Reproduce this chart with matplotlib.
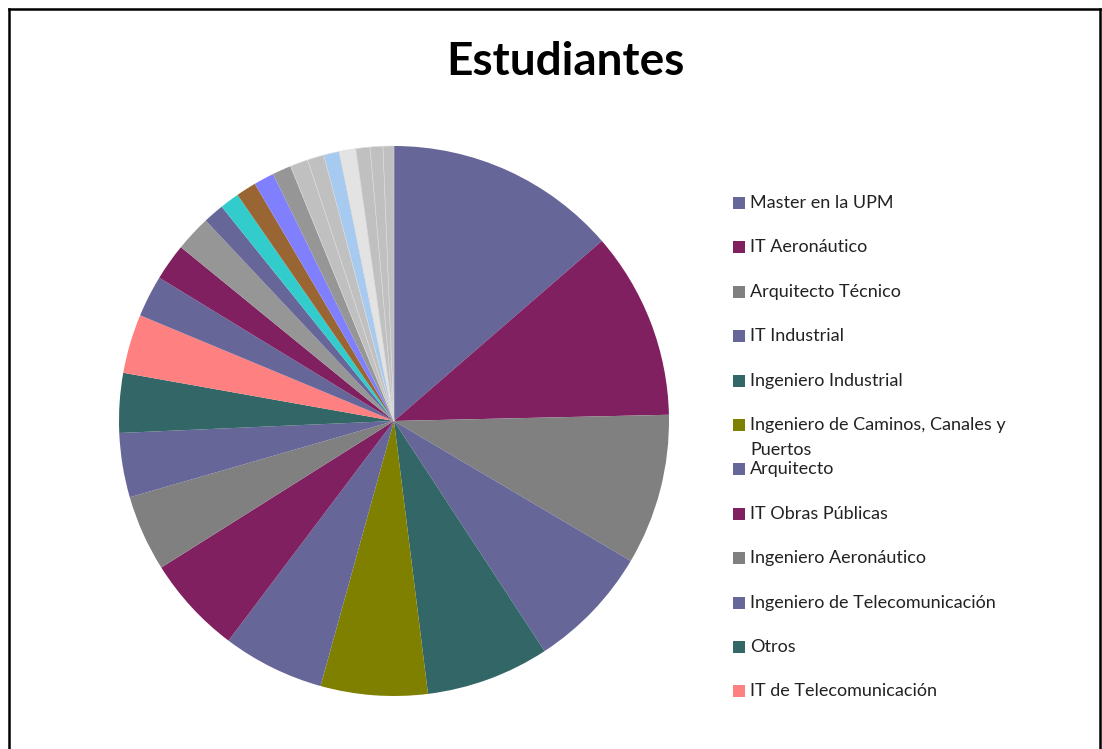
import matplotlib.pyplot as plt
from matplotlib.patches import Rectangle
from matplotlib.lines import Line2D

# valores (grados aprox. de cada sector)
labels = ["Master en la UPM", "IT Aeronáutico", "Arquitecto Técnico", "IT Industrial",
          "Ingeniero Industrial", "Ingeniero de Caminos, Canales y\nPuertos", "Arquitecto",
          "IT Obras Públicas", "Ingeniero Aeronáutico", "Ingeniero de Telecomunicación",
          "Otros", "IT de Telecomunicación"]
values = [49.1, 39.6, 31.9, 26.2, 26.1, 22.6, 21.5, 20.8, 16.1, 13.6, 12.6, 12.5,
          8.8, 7.8, 7.6, 4.4, 4.1, 4.3, 4.3, 4.0, 3.8, 3.5, 3.3, 3.5, 3.0, 2.7, 2.3]
colors = ["#666699", "#802060", "#808080", "#666699", "#336666", "#808000", "#666699",
          "#802060", "#808080", "#666699", "#336666", "#FF8080",
          "#666699", "#802060", "#969696", "#666699", "#33CCCC", "#996633", "#8080FF",
          "#969696", "#C0C0C0", "#C0C0C0", "#A6CAF0", "#E3E3E3", "#C0C0C0", "#C0C0C0",
          "#C0C0C0"]

fig = plt.figure(figsize=(11.02, 7.49), dpi=100)
W, H = 1102, 749

ax = fig.add_axes([119 / W, 1 - 696 / H, 550 / W, 550 / H])
wedges, _ = ax.pie(values, colors=colors, startangle=90, counterclock=False,
                   wedgeprops=dict(linewidth=0))
# lineas finas solo entre los sectores grises claros
for w in wedges[20:]:
    w.set_edgecolor("#dcdcdc")
    w.set_linewidth(0.4)
ax.set_xlim(-1, 1)
ax.set_ylim(-1, 1)
ax.set_aspect("equal")

fig.text(565 / W, 1 - 62 / H, "Estudiantes", ha="center", va="center",
         fontsize=33, fontweight="bold", family="Lato")

# leyenda manual (solo 12 entradas, como en el original)
y0, step = 203, 44.4
for i, lab in enumerate(labels):
    y = y0 + i * step
    fig.patches.append(Rectangle((733 / W, 1 - (y + 6) / H), 12 / W, 12 / H,
                                 facecolor=colors[i], edgecolor="none",
                                 transform=fig.transFigure, figure=fig))
    for j, line in enumerate(lab.split("\n")):
        fig.text(750 / W, 1 - (y + j * 25) / H, line, ha="left", va="center",
                 fontsize=13, family="Lato", color="#222222")

# marco
for xs, ys in [([9, 9], [749, 9]), ([9, 1100], [9, 9]), ([1100, 1100], [9, 749])]:
    fig.add_artist(Line2D([x / W for x in xs], [1 - y / H for y in ys],
                          color="black", linewidth=1.8, transform=fig.transFigure))

fig.savefig("out.png", dpi=100)
